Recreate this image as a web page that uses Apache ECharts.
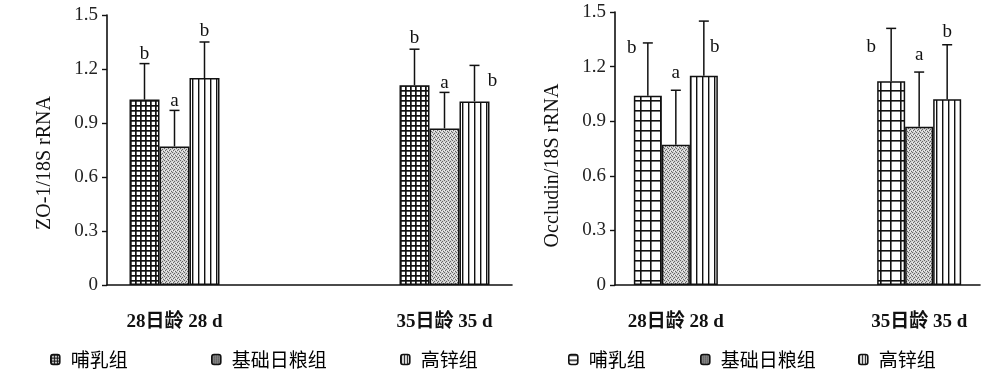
<!DOCTYPE html>
<html><head><meta charset="utf-8">
<script src="https://cdn.jsdelivr.net/npm/echarts@6/dist/echarts.min.js"></script>
<style>html,body{margin:0;padding:0;background:#fff}#c{width:986px;height:380px}</style>
</head><body><div id="c"></div>
<script>
// ---------- DATA ----------
const categories = ['28日龄 28 d', '', '35日龄 35 d'];
const groupNames = ['哺乳组', '基础日粮组', '高锌组'];
const yTickLabels = ['0', '0.3', '0.6', '0.9', '1.2', '1.5'];

// ZO-1/18S rRNA (left chart)
const zoSuckling = [1.03, null, 1.11];
const zoBasal    = [0.77, null, 0.87];
const zoZinc     = [1.15, null, 1.02];
const zoSucklingErr = [0.20, null, 0.20];
const zoBasalErr    = [0.20, null, 0.20];
const zoZincErr     = [0.20, null, 0.20];
const zoSucklingSig = ['b', null, 'b'];
const zoBasalSig    = ['a', null, 'a'];
const zoZincSig     = ['b', null, 'b'];

// Occludin/18S rRNA (right chart)
const ocSuckling = [1.04, null, 1.12];
const ocBasal    = [0.77, null, 0.87];
const ocZinc     = [1.15, null, 1.02];
const ocSucklingErr = [0.29, null, 0.29];
const ocBasalErr    = [0.30, null, 0.30];
const ocZincErr     = [0.30, null, 0.30];
const ocSucklingSig = ['b', null, 'b'];
const ocBasalSig    = ['a', null, 'a'];
const ocZincSig     = ['b', null, 'b'];

// ---------- LAYOUT (letter offsets in px from error-bar top) ----------
const zoSigOffset = [[[0,-10],[0,-9],[0,-11]], null, [[0,-11],[0,-9],[18,16]]];
const ocSigOffset = [[[-16,5],[0,-17],[11,26]], null, [[-20,19],[0,-17],[0,-13]]];

// ---------- PATTERNS ----------
function cv(w, h, draw){ const c=document.createElement('canvas'); c.width=w; c.height=h; const g=c.getContext('2d'); draw(g); return c; }
const fineGrid = cv(5,5,g=>{g.fillStyle='#fff';g.fillRect(0,0,5,5);g.fillStyle='#111';g.fillRect(0,0,5,1.7);g.fillRect(0,0,1.7,5);});
const coarseGrid = cv(10,10,g=>{g.fillStyle='#fff';g.fillRect(0,0,10,10);g.fillStyle='#111';g.fillRect(0,0,10,1.6);g.fillRect(0,0,1.6,10);});
const stipple = cv(4,4,g=>{g.fillStyle='#d0d0d0';g.fillRect(0,0,4,4);g.fillStyle='#666';
  [[0,0],[2,1],[1,2],[3,3]].forEach(p=>g.fillRect(p[0],p[1],1,1));g.fillStyle='#f2f2f2';[[2,3],[0,2]].forEach(p=>g.fillRect(p[0],p[1],1,1));});
const vLines = cv(6,6,g=>{g.fillStyle='#fff';g.fillRect(0,0,6,6);g.fillStyle='#111';g.fillRect(0,0,1.4,6);});
const iconGrid = cv(3,3,g=>{g.fillStyle='#fff';g.fillRect(0,0,3,3);g.fillStyle='#111';g.fillRect(0,0,3,1.2);g.fillRect(0,0,1.2,3);});
const iconStip = cv(2,2,g=>{g.fillStyle='#888';g.fillRect(0,0,2,2);g.fillStyle='#444';g.fillRect(0,0,1,1);});
const iconV = cv(3,3,g=>{g.fillStyle='#fff';g.fillRect(0,0,3,3);g.fillStyle='#111';g.fillRect(0,0,1.2,3);});
const iconH = cv(5,5,g=>{g.fillStyle='#fff';g.fillRect(0,0,5,5);g.fillStyle='#111';g.fillRect(0,0,5,1.4);});
const pat = c => ({image:c, repeat:'repeat'});

const serif = 'Liberation Serif, Times New Roman, serif';
const cjk = 'Liberation Serif, Noto Sans CJK SC, serif';

function barSeries(name, data, fill, xi, bw){
  return {type:'bar', name, data, xAxisIndex:xi, yAxisIndex:xi, barWidth:bw, barGap:'0%',
    itemStyle:{color:pat(fill), borderColor:'#111', borderWidth:1.5}, silent:true, animation:false};
}
function errSeries(means, errs, sigs, offs, xi, bw){
  const rows = [];
  means.forEach((arr, gi)=>arr.forEach((m, ci)=>{ if(m!=null) rows.push([ci, m, errs[gi][ci], gi, sigs[gi][ci], offs[ci][gi]]); }));
  return {type:'custom', xAxisIndex:xi, yAxisIndex:xi, silent:true, animation:false, z:5,
    data: rows.map(r=>[r[0], r[1], r[2], r[3]]), encode:{x:0, y:1},
    renderItem(params, api){
      const r = rows[params.dataIndex];
      const ci=r[0], m=r[1], e=r[2], gi=r[3];
      const p0 = api.coord([ci, m]);
      const x = p0[0] + (gi-1)*bw;
      const yT = api.coord([ci, m+e])[1];
      const st = {stroke:'#111', lineWidth:1.5};
      return {type:'group', children:[
        {type:'line', shape:{x1:x, y1:p0[1], x2:x, y2:yT}, style:st},
        {type:'line', shape:{x1:x-5, y1:yT, x2:x+5, y2:yT}, style:st},
        {type:'text', x:x+r[5][0], y:yT+r[5][1], style:{text:r[4], fill:'#111', font:'19px '+serif, align:'center', verticalAlign:'middle'}}
      ]};
    }};
}

function xAxis(gi){ return {type:'category', gridIndex:gi, data:categories,
  axisLine:{lineStyle:{color:'#111', width:1.6}},
  axisTick:{inside:true, length:5, interval:0, lineStyle:{color:'#111', width:1.4}},
  axisLabel:{margin:28, interval:0, color:'#111', fontSize:19, fontWeight:'bold', fontFamily:cjk}}; }
function yAxis(gi, name, pad){ return {type:'value', gridIndex:gi, min:0, max:1.5, interval:0.3,
  name, nameLocation:'middle', nameGap:52, nameRotate:90,
  nameTextStyle:{fontSize:20, color:'#111', fontFamily:serif, padding:[0,pad,0,0]},
  axisLine:{show:true, lineStyle:{color:'#111', width:1.6}},
  axisTick:{show:true, length:5, lineStyle:{color:'#111', width:1.4}},
  splitLine:{show:false},
  axisLabel:{margin:9, color:'#222', fontSize:19, fontFamily:serif, formatter:(v)=>yTickLabels[Math.round(v/0.3)]}}; }

const legendStyle = {selectedMode:false, itemWidth:9, itemHeight:10, top:350, padding:0,
  textStyle:{fontSize:19, color:'#000', fontFamily:'Noto Sans CJK SC', padding:[0,0,0,6]}};
function leg(name, left, fill){ const d = {name, itemStyle:{color:pat(fill), borderColor:'#111', borderWidth:1.6}};
  return Object.assign({}, legendStyle, {data:[d], left}); }

const chart = echarts.init(document.getElementById('c'), null, {renderer:'canvas'});
chart.setOption({
  animation:false,
  grid:[{left:107, top:15, width:405, height:270},{left:615, top:12, width:365, height:273}],
  xAxis:[xAxis(0), xAxis(1)],
  yAxis:[yAxis(0,'ZO-1/18S rRNA',26), yAxis(1,'Occludin/18S rRNA',34)],
  legend:[
    leg(groupNames[0], 50, iconGrid), leg(groupNames[1], 211, iconStip), leg(groupNames[2], 400, iconV),
    leg(groupNames[0], 568, iconH), leg(groupNames[1], 700, iconStip), leg(groupNames[2], 858, iconV)
  ],
  series:[
    barSeries(groupNames[0], zoSuckling, fineGrid, 0, 30),
    barSeries(groupNames[1], zoBasal, stipple, 0, 30),
    barSeries(groupNames[2], zoZinc, vLines, 0, 30),
    errSeries([zoSuckling, zoBasal, zoZinc],[zoSucklingErr, zoBasalErr, zoZincErr],[zoSucklingSig, zoBasalSig, zoZincSig], zoSigOffset, 0, 30),
    barSeries(groupNames[0], ocSuckling, coarseGrid, 1, 28),
    barSeries(groupNames[1], ocBasal, stipple, 1, 28),
    barSeries(groupNames[2], ocZinc, vLines, 1, 28),
    errSeries([ocSuckling, ocBasal, ocZinc],[ocSucklingErr, ocBasalErr, ocZincErr],[ocSucklingSig, ocBasalSig, ocZincSig], ocSigOffset, 1, 28)
  ]
});
</script></body></html>
